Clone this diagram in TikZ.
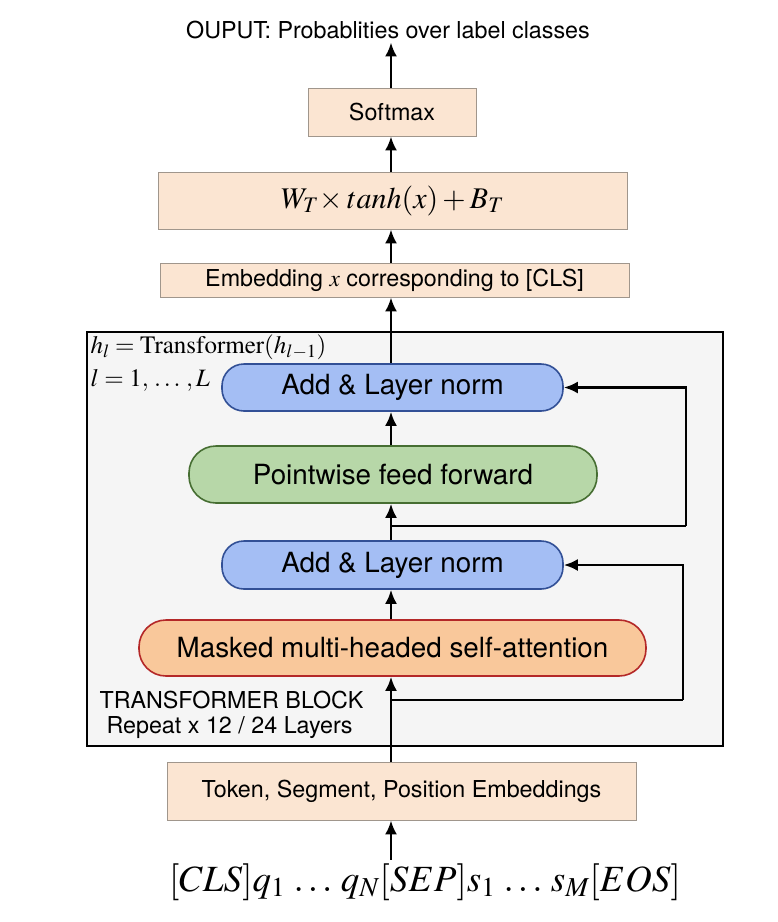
\documentclass[tikz,border=0pt]{standalone}
\usepackage{mathptmx}
\usepackage[no-math]{fontspec}
\setmainfont{TeX Gyre Heros}
\usetikzlibrary{arrows.meta}
\definecolor{peach}{RGB}{251,229,210}
\definecolor{peachline}{RGB}{160,150,140}
\definecolor{blockbg}{RGB}{245,245,245}
\definecolor{bluefill}{RGB}{164,190,244}
\definecolor{blueline}{RGB}{50,80,150}
\definecolor{greenfill}{RGB}{183,215,168}
\definecolor{greenline}{RGB}{70,110,50}
\definecolor{orangefill}{RGB}{249,200,155}
\definecolor{orangeline}{RGB}{180,40,40}
\begin{document}
\begin{tikzpicture}[x=1pt,y=-1pt,
  peachbox/.style={draw=peachline,fill=peach,line width=0.8pt,inner sep=0pt},
  pill/.style={rounded corners=22pt,line width=1.6pt,inner sep=0pt},
  arr/.style={line width=2.6pt,-{Latex[length=14pt,width=12pt]}},
  lbl/.style={font=\fontsize{27.8}{32}\selectfont},
  sm/.style={font=\fontsize{23.3}{27}\selectfont},
]
\useasboundingbox (0,0) rectangle (778,922);
% output
\node[sm] (out) at (388,30) {OUPUT: Probablities over label classes};
\node[peachbox,minimum width=168pt,minimum height=48pt,sm] (soft) at (392,112) {Softmax};
\node[peachbox,minimum width=469pt,minimum height=57pt,font=\fontsize{30}{34}\selectfont] (wb) at (392.5,200.5) {$W_T\!\times tanh(x) + B_T$};
\node[peachbox,minimum width=469pt,minimum height=34pt,sm] (emb) at (394.5,280) {Embedding $x$ corresponding to [CLS]};
% block
\node[draw=black,fill=blockbg,line width=2pt,minimum width=636pt,minimum height=414pt,inner sep=0pt] (block) at (405,539) {};
\node[anchor=west,font=\fontsize{25}{29}\selectfont] (hl) at (87,347) {$h_l = \mathrm{Transformer}(h_{l-1})$};
\node[anchor=west,font=\fontsize{25}{29}\selectfont] (ll) at (87,380) {$l = 1,\, \ldots\,, L$};
\node[pill,draw=blueline,fill=bluefill,minimum width=341pt,minimum height=47pt,lbl] (aln2) at (392.5,387.5) {Add \& Layer norm};
\node[pill,draw=greenline,fill=greenfill,minimum width=408pt,minimum height=57pt,rounded corners=27pt,lbl] (ff) at (393,474.5) {Pointwise feed forward};
\node[pill,draw=blueline,fill=bluefill,minimum width=341pt,minimum height=48pt,lbl] (aln1) at (392.5,565) {Add \& Layer norm};
\node[pill,draw=orangeline,fill=orangefill,minimum width=507pt,minimum height=56pt,rounded corners=27pt,lbl] (mha) at (392.5,648) {Masked multi-headed self-attention};
\node[anchor=west,sm] (tb) at (96,700) {TRANSFORMER BLOCK};
\node[anchor=west,sm] (rep) at (103,728) {Repeat x 12 / 24 Layers};
% input
\node[peachbox,minimum width=469pt,minimum height=58pt,sm] (tok) at (401.5,791) {Token, Segment, Position Embeddings};
\node[font=\fontsize{37}{42}\selectfont] (inp) at (425,882) {$[CLS]q_1\,\ldots\,q_N[SEP]s_1\,\ldots\,s_M[EOS]$};
% arrows
\coordinate (ax) at (391,0);
\draw[arr] (ax |- inp.north) -- (ax |- tok.south);
\draw[arr] (ax |- tok.north) -- (ax |- mha.south);
\draw[arr] (ax |- mha.north) -- (ax |- aln1.south);
\draw[arr] (ax |- aln1.north) -- (ax |- ff.south);
\draw[arr] (ax |- ff.north) -- (ax |- aln2.south);
\draw[arr] (ax |- aln2.north) -- (ax |- emb.south);
\draw[arr] (ax |- emb.north) -- (ax |- wb.south);
\draw[arr] (ax |- wb.north) -- (ax |- soft.south);
\draw[arr] (ax |- soft.north) -- (ax |- out.south);
% residuals
\coordinate (b1) at (391,700);
\coordinate (c1) at (683,700);
\coordinate (b2) at (391,526);
\coordinate (c2) at (686,526);
\draw[line width=2.6pt] (b1) -- (c1);
\draw[arr] (c1) |- (aln1.east);
\draw[line width=2.6pt] (b2) -- (c2);
\draw[arr] (c2) |- (aln2.east);
\end{tikzpicture}
\end{document}
